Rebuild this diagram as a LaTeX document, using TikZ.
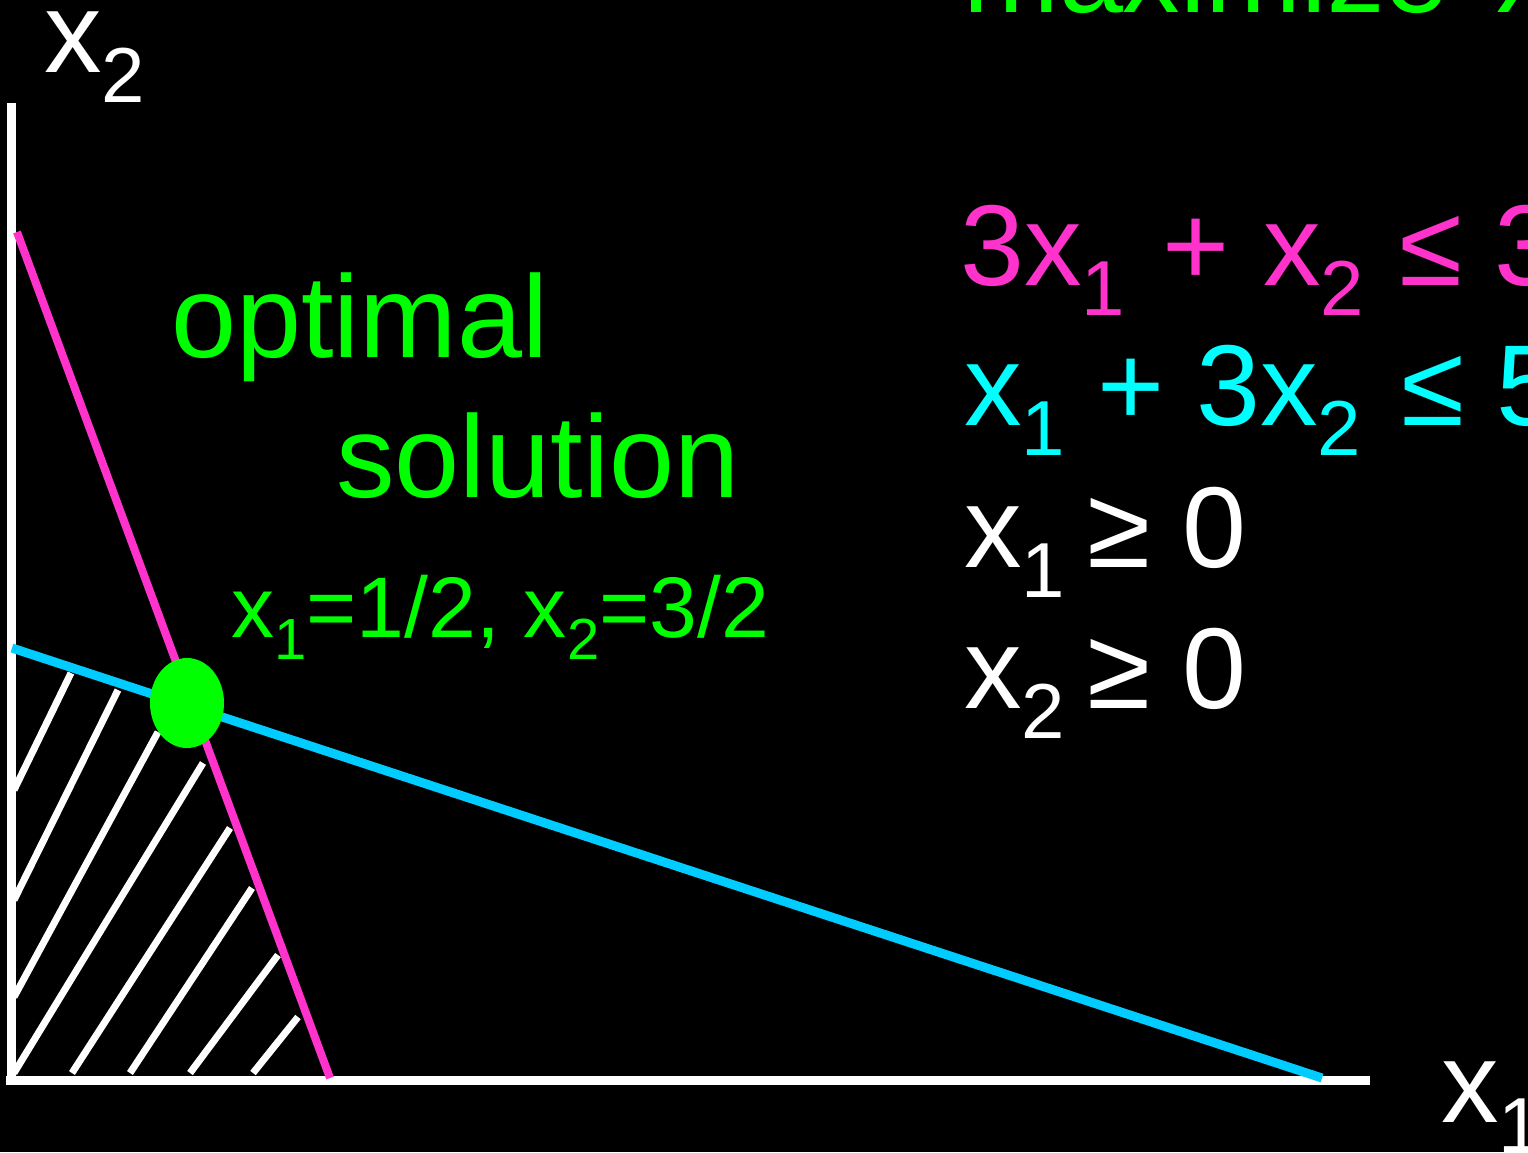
\documentclass[tikz,border=0pt]{standalone}
\usepackage{fontspec}
\setmainfont{Liberation Sans}
\usetikzlibrary{shapes.geometric}
\definecolor{pinkc}{HTML}{FF33CC}
\definecolor{cyanl}{HTML}{00CCFF}
\definecolor{cyant}{HTML}{00FFFF}
\definecolor{greenc}{HTML}{00FF00}
\newcommand{\sbb}[1]{\raisebox{-30pt}{\fontsize{78}{78}\selectfont #1}}
\newcommand{\sbm}[1]{\raisebox{-22pt}{\fontsize{58}{58}\selectfont #1}}
\tikzset{
  bigtxt/.style={anchor=base west, inner sep=0pt, font=\fontsize{115}{138}\selectfont},
  labtxt/.style={anchor=base west, inner sep=0pt, font=\fontsize{117}{138}\selectfont},
  midtxt/.style={anchor=base west, inner sep=0pt, font=\fontsize{86}{100}\selectfont},
  axisline/.style={white, line width=9pt},
  hatchline/.style={white, line width=7pt},
}
\begin{document}
\begin{tikzpicture}[x=1pt,y=-1pt]
\fill[black] (0,0) rectangle (1528,1152);
\useasboundingbox (0,0) rectangle (1528,1152);
\clip (0,0) rectangle (1528,1152);

% hatching of the feasible region
\draw[hatchline] (14,790) -- (71,673);
\draw[hatchline] (14,900) -- (118,690);
\draw[hatchline] (14,997) -- (158,732);
\draw[hatchline] (14,1073) -- (203,763);
\draw[hatchline] (72,1073) -- (230,828);
\draw[hatchline] (130,1073) -- (252,888);
\draw[hatchline] (190,1073) -- (278,955);
\draw[hatchline] (253,1073) -- (298,1017);

% axes
\coordinate (ytop) at (11,103);
\coordinate (ybot) at (11,1085);
\coordinate (xleft) at (6,1080);
\coordinate (xright) at (1370,1080);
\draw[axisline] (ytop) -- (ybot);
\draw[axisline] (xleft) -- (xright);

% constraint lines
\coordinate (p1) at (17,232);
\coordinate (p2) at (330,1078);
\coordinate (c1) at (12,648);
\coordinate (c2) at (1322,1078);
\draw[pinkc, line width=8pt] (p1) -- (p2);
\draw[cyanl, line width=9pt] (c1) -- (c2);

% optimum
\node[ellipse, fill=greenc, minimum width=74pt, minimum height=90pt, inner sep=0pt] (opt) at (187,703) {};

% axis labels
\node[bigtxt, white] (lx2) at (44,72) {x\sbb{2}};
\node[bigtxt, white] (lx1) at (1441,1122) {x\sbb{1}};

% green texts
\node[bigtxt, greenc] (max) at (963,12) {maximize\hspace{48pt}x};
\node[labtxt, greenc] (t1) at (171,357) {optimal};
\node[labtxt, greenc] (t2) at (336,497) {solution};
\node[midtxt, greenc] (t3) at (231,637) {x\sbm{1}=1/2, x\sbm{2}=3/2};

% constraints
\node[bigtxt, pinkc] (e1) at (960,285) {3x\sbb{1}\hspace{37pt}+\hspace{34pt}x\sbb{2}\hspace{35pt}≤\hspace{32pt}3};
\node[bigtxt, cyant] (e2) at (964,425) {x\sbb{1}\hspace{32pt}+\hspace{32pt}3x\sbb{2}\hspace{40pt}≤\hspace{32pt}5};
\node[bigtxt, white] (e3) at (964,567) {x\sbb{1}\hspace{22pt}≥\hspace{32pt}0};
\node[bigtxt, white] (e4) at (964,708) {x\sbb{2}\hspace{22pt}≥\hspace{32pt}0};
\end{tikzpicture}
\end{document}
